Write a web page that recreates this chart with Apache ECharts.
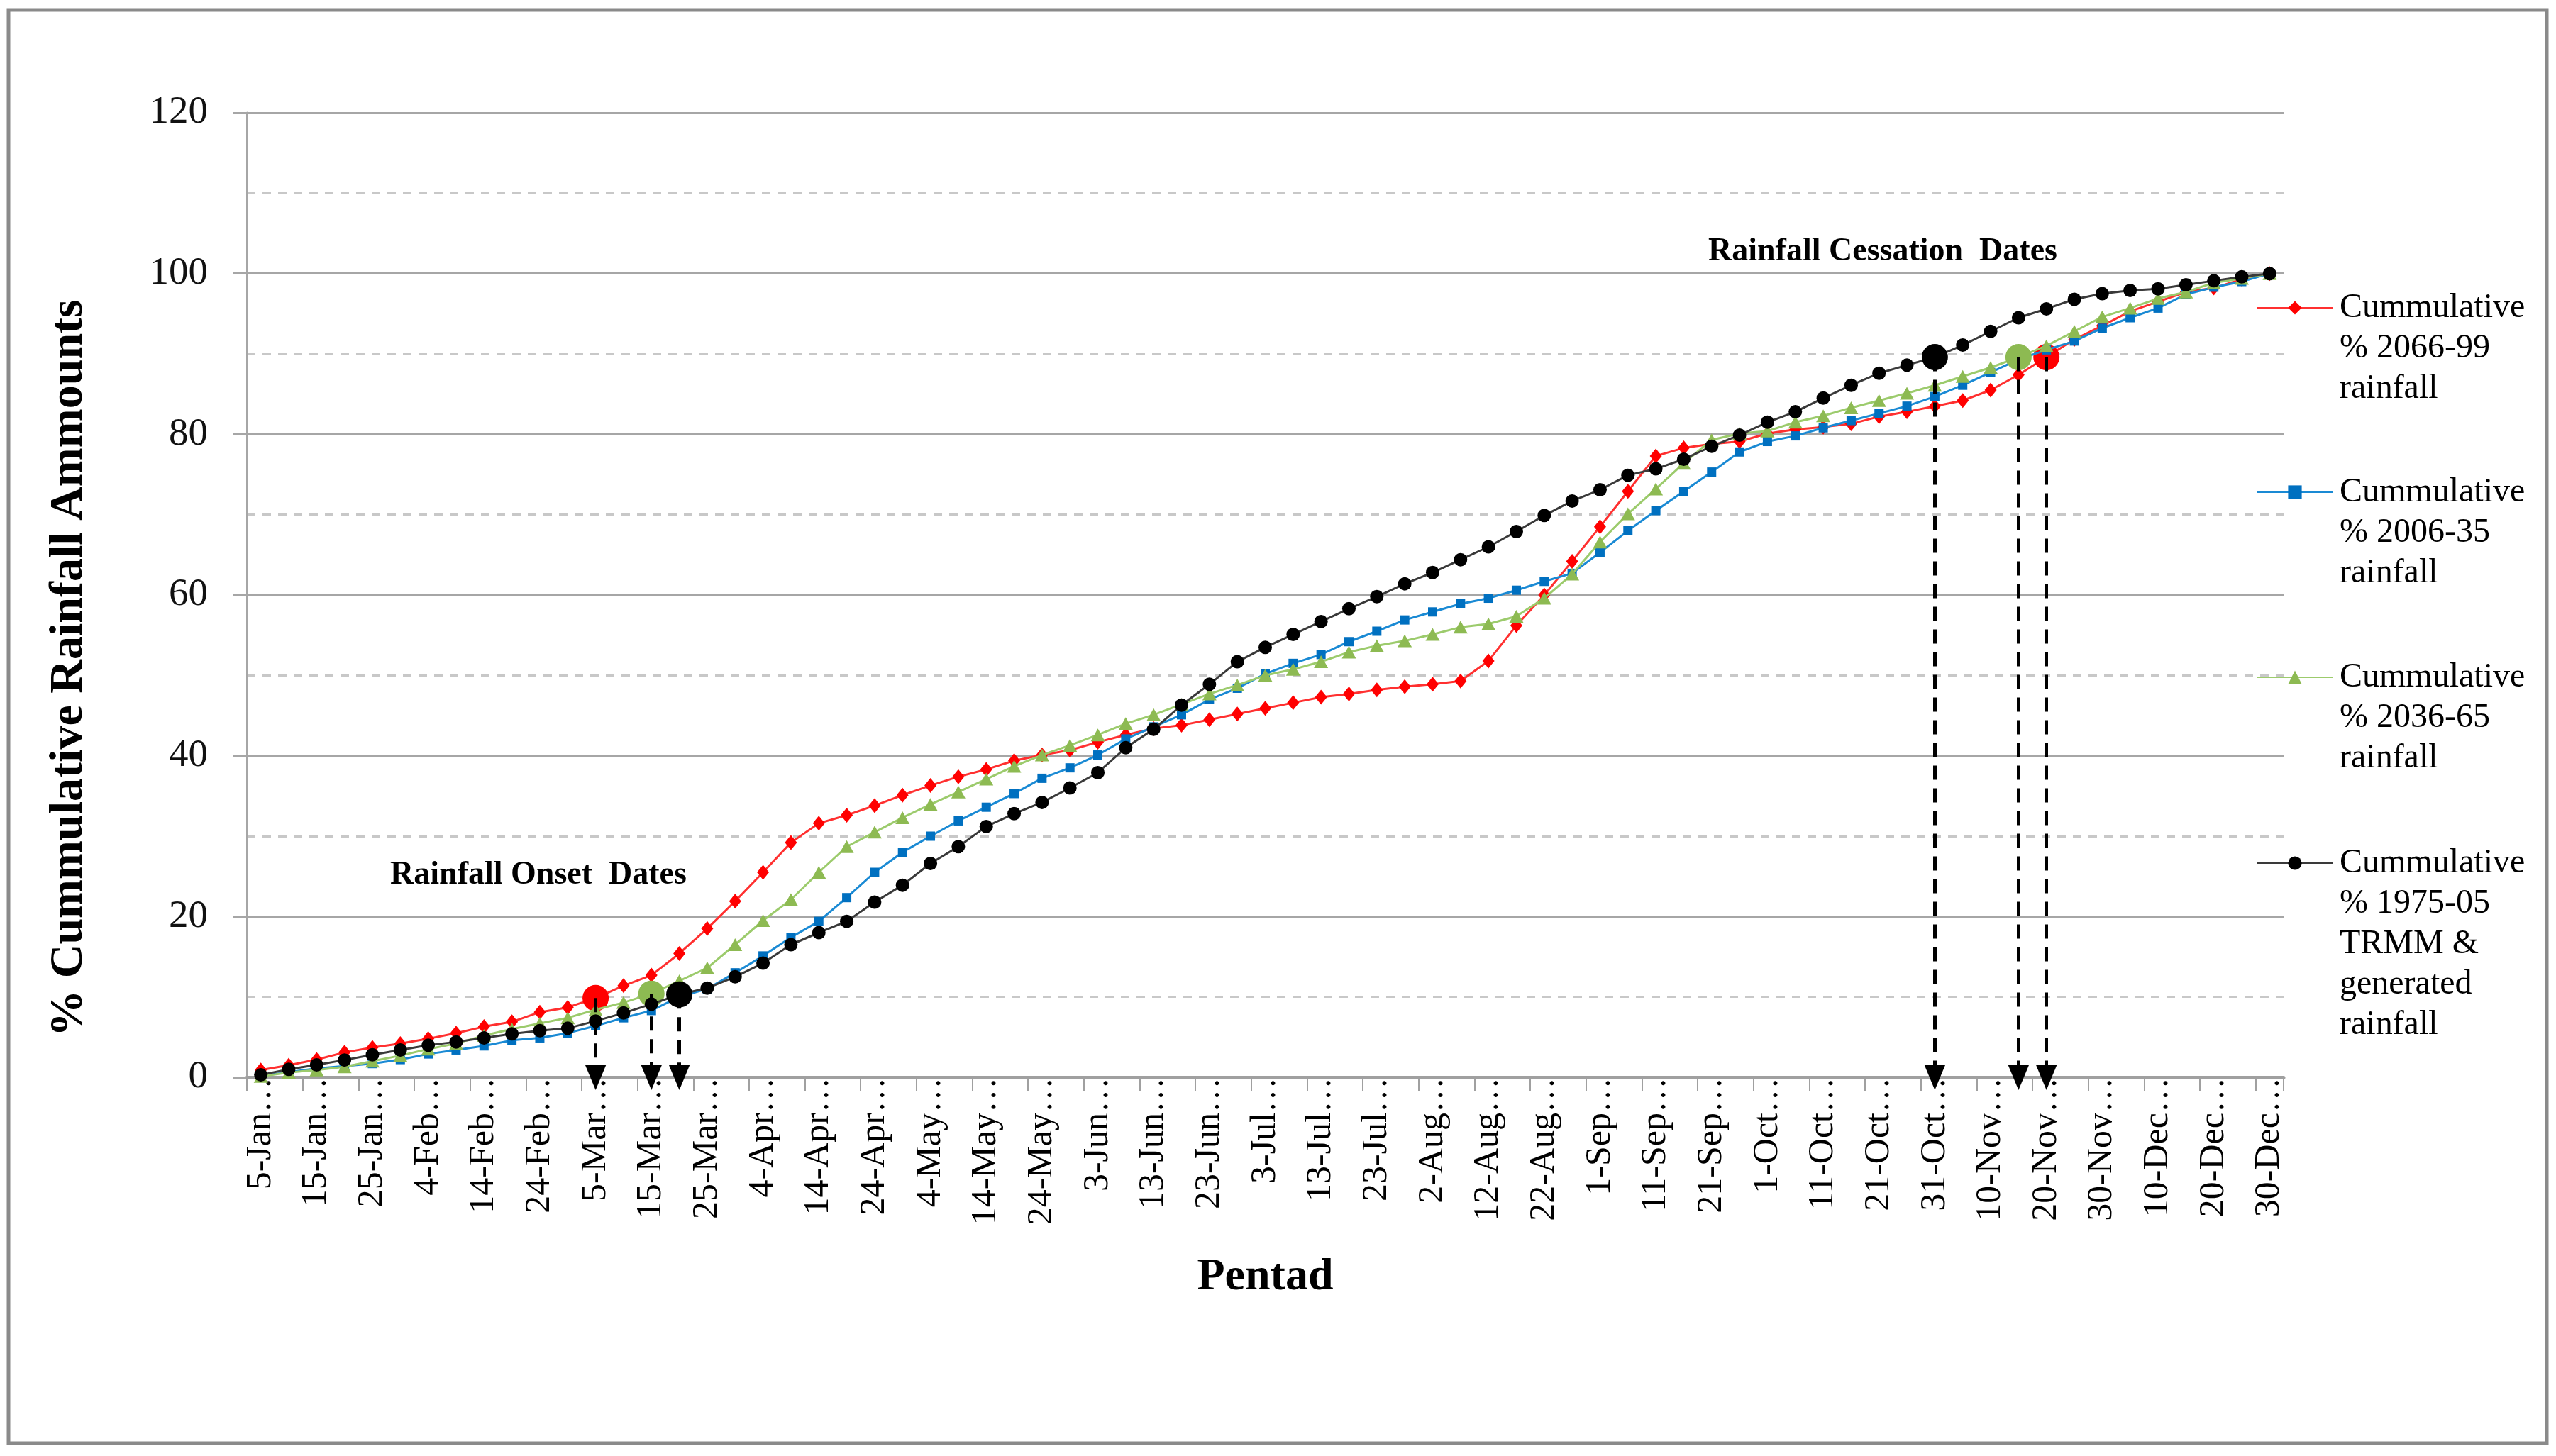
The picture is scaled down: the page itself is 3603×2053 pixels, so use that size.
<!DOCTYPE html>
<html>
<head>
<meta charset="utf-8">
<script src="https://cdn.jsdelivr.net/npm/echarts@6/dist/echarts.min.js"></script>
<style>
html, body { margin: 0; padding: 0; background: #fff; }
#chart { width: 3603px; height: 2053px; }
</style>
</head>
<body>
<div id="chart"></div>
<script>
// Pentad end dates (73 pentads)
const categories = [
  '5-Jan','10-Jan','15-Jan','20-Jan','25-Jan','30-Jan','4-Feb','9-Feb','14-Feb','19-Feb','24-Feb','29-Feb',
  '5-Mar','10-Mar','15-Mar','20-Mar','25-Mar','30-Mar','4-Apr','9-Apr','14-Apr','19-Apr','24-Apr','29-Apr',
  '4-May','9-May','14-May','19-May','24-May','29-May','3-Jun','8-Jun','13-Jun','18-Jun','23-Jun','28-Jun',
  '3-Jul','8-Jul','13-Jul','18-Jul','23-Jul','28-Jul','2-Aug','7-Aug','12-Aug','17-Aug','22-Aug','27-Aug',
  '1-Sep','6-Sep','11-Sep','16-Sep','21-Sep','26-Sep','1-Oct','6-Oct','11-Oct','16-Oct','21-Oct','26-Oct',
  '31-Oct','5-Nov','10-Nov','15-Nov','20-Nov','25-Nov','30-Nov','5-Dec','10-Dec','15-Dec','20-Dec','25-Dec','30-Dec'
];

const cum2066_99 = [
  0.9,1.5,2.2,3.1,3.7,4.2,4.8,5.5,6.3,6.9,8.1,8.7,9.85,
  11.4,12.7,15.4,18.5,21.9,25.5,29.2,
  31.6,32.6,33.8,35.1,36.3,37.4,38.3,39.4,40.1,40.7,
  41.7,42.6,43.4,43.8,44.5,45.2,45.9,46.6,47.3,47.7,
  48.2,48.6,48.9,49.3,51.8,56.2,60.0,64.2,68.5,72.9,
  77.3,78.3,78.8,79.1,80.1,80.6,80.9,81.3,82.2,82.8,
  83.5,84.2,85.5,87.4,89.6,91.8,93.5,95.3,96.5,97.7,
  98.2,99.3,100
];

const cum2006_35 = [
  0.15,0.65,1.1,1.4,1.7,2.2,2.9,3.4,3.9,4.6,4.9,5.5,6.4,
  7.4,8.3,10.0,11.0,13.0,15.1,17.4,
  19.4,22.35,25.5,28.0,30.0,31.9,33.6,35.3,37.2,38.5,
  40.1,42.1,43.6,45.1,47.0,48.4,50.2,51.5,52.6,54.2,
  55.5,56.9,57.9,58.9,59.6,60.6,61.7,62.7,65.3,68.0,
  70.5,72.9,75.3,77.8,79.1,79.8,80.8,81.7,82.6,83.5,
  84.7,86.1,87.7,89.3,90.5,91.6,93.2,94.5,95.7,97.4,
  98.3,99.0,100
];

const cum2036_65 = [
  0.1,0.6,0.9,1.3,2.0,2.7,3.5,4.2,5.2,6.0,6.7,7.4,8.4,
  9.3,10.4,12.0,13.6,16.5,19.5,22.1,
  25.5,28.7,30.5,32.3,33.95,35.5,37.1,38.7,40.1,41.3,
  42.6,44.0,45.1,46.4,47.7,48.8,50.0,50.75,51.7,52.9,
  53.7,54.3,55.1,56.0,56.4,57.35,59.6,62.6,66.6,70.1,
  73.2,76.4,79.3,80.1,80.4,81.5,82.3,83.3,84.2,85.1,
  86.1,87.2,88.3,89.6,91.0,92.8,94.6,95.7,96.9,97.7,
  98.85,99.4,100
];

const cum1975_05 = [
  0.3,1.0,1.55,2.15,2.8,3.4,4.0,4.4,4.9,5.4,5.8,6.1,7.0,
  8.0,9.1,10.3,11.1,12.5,14.2,16.5,
  18.0,19.4,21.8,23.9,26.6,28.7,31.2,32.8,34.2,36.0,
  37.9,41.0,43.3,46.3,48.9,51.7,53.5,55.1,56.7,58.3,
  59.8,61.4,62.8,64.4,66.0,67.9,69.9,71.7,73.1,74.9,
  75.7,76.9,78.5,79.9,81.5,82.8,84.5,86.1,87.6,88.6,
  89.6,91.1,92.8,94.5,95.6,96.8,97.5,97.9,98.1,98.6,
  99.1,99.6,100
];

const seriesNames = [
  'Cummulative % 2066-99 rainfall',
  'Cummulative % 2006-35 rainfall',
  'Cummulative % 2036-65 rainfall',
  'Cummulative % 1975-05 TRMM & generated rainfall'
];
const legendLines = [
  ['Cummulative', '% 2066-99', 'rainfall'],
  ['Cummulative', '% 2006-35', 'rainfall'],
  ['Cummulative', '% 2036-65', 'rainfall'],
  ['Cummulative', '% 1975-05', 'TRMM &', 'generated', 'rainfall']
];
// Onset / cessation pentad indices (null = none)
const onsetIndex = [12, null, 14, 15];
const cessationIndex = [64, null, 63, 60];

const seriesValues = [cum2066_99, cum2006_35, cum2036_65, cum1975_05];
const markerColors = ['#FF0000', '#0070C0', '#8DBA52', '#000000'];
const lineColors = ['#FF3030', '#1A8AD4', '#9CCB6C', '#3A3A3A'];
const symbols = ['diamond', 'rect', 'triangle', 'circle'];
const symbolSizes = [[17, 21], 13, [20, 18], 19];

const SERIF = '"Liberation Serif", "DejaVu Serif", serif';

const series = seriesValues.map((vals, k) => {
  const big = [onsetIndex[k], cessationIndex[k]].filter(v => v != null);
  const s = {
    name: seriesNames[k],
    type: 'line',
    data: vals.map((v, i) => big.includes(i)
      ? { value: v, symbol: 'circle', symbolSize: 37, itemStyle: { color: markerColors[k] } }
      : v),
    symbol: symbols[k],
    symbolSize: symbolSizes[k],
    showAllSymbol: true,
    lineStyle: { color: lineColors[k], width: 3 },
    itemStyle: { color: markerColors[k] },
    z: 2 + k
  };
  if (big.length) {
    s.markLine = {
      silent: true,
      symbol: ['none', 'triangle'],
      symbolSize: [30, 36],
      label: { show: false },
      lineStyle: { color: '#000', type: [20, 12], width: 5 },
      data: big.map(i => [
        { coord: [categories[i], vals[i]] },
        { coord: [categories[i], 0] }
      ])
    };
  }
  return s;
});

const legendIconY = [434, 694, 955, 1217];
const LH = 57;
const legends = seriesNames.map((n, k) => {
  const lines = legendLines[k];
  const N = lines.length;
  return {
    data: [n],
    left: 3180,
    top: legendIconY[k] - (2 * N - 1) * LH / 2,
    padding: 0,
    itemWidth: 108,
    itemHeight: 24,
    selectedMode: false,
    formatter: () => '\n'.repeat(N - 1) + lines.join('\n'),
    textStyle: { fontFamily: SERIF, fontSize: 48, lineHeight: LH, color: '#000', padding: [0, 0, 0, 4] }
  };
});

const chart = echarts.init(document.getElementById('chart'), null, { renderer: 'canvas' });
chart.setOption({
  backgroundColor: '#ffffff',
  animation: false,
  grid: { left: 348, right: 384, top: 159, bottom: 534, containLabel: false },
  legend: legends,
  xAxis: {
    type: 'category',
    data: categories,
    boundaryGap: true,
    name: 'Pentad',
    nameLocation: 'middle',
    nameGap: 250,
    nameTextStyle: { fontFamily: SERIF, fontSize: 64, fontWeight: 'bold', color: '#000', verticalAlign: 'top' },
    axisLine: { show: true, lineStyle: { color: '#A0A0A0', width: 5 } },
    axisTick: { show: true, interval: 1, length: 20, lineStyle: { color: '#A0A0A0', width: 2 } },
    axisLabel: {
      interval: 1,
      rotate: 90,
      margin: 0,
      fontFamily: SERIF,
      fontSize: 50,
      color: '#000',
      formatter: v => v + '\u2026'
    },
    splitLine: { show: false }
  },
  yAxis: {
    type: 'value',
    min: 0,
    max: 120,
    interval: 20,
    axisLine: { show: true, lineStyle: { color: '#A6A6A6', width: 3 } },
    axisTick: { show: true, length: 20, lineStyle: { color: '#A6A6A6', width: 3 } },
    axisLabel: { margin: 55, fontFamily: SERIF, fontSize: 55, color: '#111' },
    splitLine: { show: true, lineStyle: { color: '#A6A6A6', width: 3 } },
    minorTick: { show: false, splitNumber: 2 },
    minorSplitLine: { show: true, lineStyle: { color: '#C8C8C8', width: 3, type: [12, 10] } }
  },
  graphic: [
    {
      type: 'rect',
      silent: true,
      shape: { x: 12, y: 14, width: 3578, height: 2021 },
      style: { fill: 'none', stroke: '#8A8A8A', lineWidth: 5 },
      z: -10
    },
    {
      type: 'text',
      x: 98, y: 942,
      rotation: Math.PI / 2,
      style: {
        text: '% Cummulative Rainfall Ammounts',
        font: 'bold 66px "Liberation Serif", serif',
        fill: '#000',
        textAlign: 'center',
        textVerticalAlign: 'middle'
      }
    },
    {
      type: 'text',
      x: 759, y: 1234,
      style: {
        text: 'Rainfall Onset  Dates',
        font: 'bold 46px "Liberation Serif", serif',
        fill: '#000',
        textAlign: 'center',
        textVerticalAlign: 'middle'
      },
      z: 20
    },
    {
      type: 'text',
      x: 2654, y: 355,
      style: {
        text: 'Rainfall Cessation  Dates',
        font: 'bold 46px "Liberation Serif", serif',
        fill: '#000',
        textAlign: 'center',
        textVerticalAlign: 'middle'
      },
      z: 20
    }
  ],
  series: series
});
</script>
</body>
</html>
